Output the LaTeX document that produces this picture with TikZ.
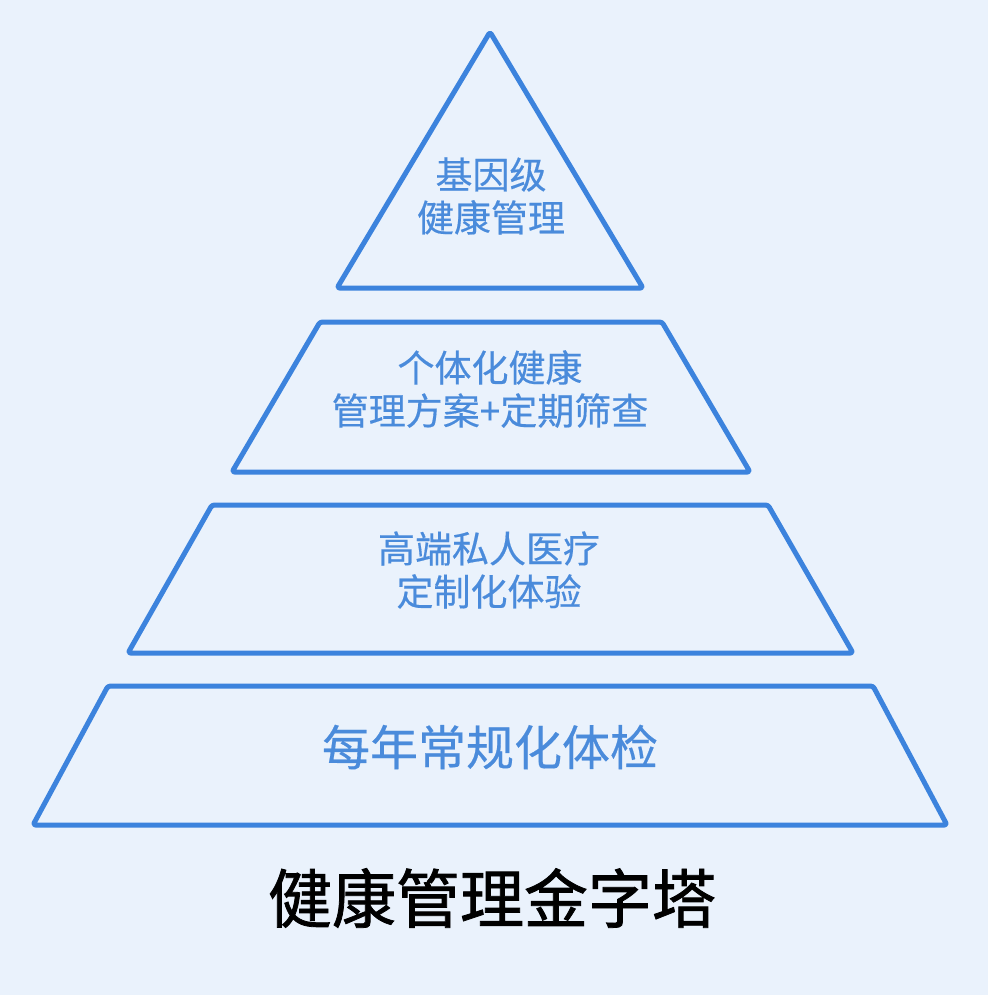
\documentclass[tikz,border=0pt]{standalone}
\usepackage{fontspec}
\newfontfamily\cjk{Noto Sans CJK SC}[FakeBold=0.4]
\newfontfamily\cjkbold{Noto Sans CJK SC}[FakeBold=1.2]
\definecolor{bgc}{HTML}{EAF2FC}
\definecolor{linec}{HTML}{3C83DD}
\definecolor{textc}{HTML}{4A8BDB}
\begin{document}
\begin{tikzpicture}[x=1pt,y=-1pt,
  tier/.style={draw=linec,line width=5pt,line join=round,rounded corners=2.5pt},
  lbl/.style={text=textc,font=\cjk\fontsize{37}{43}\selectfont,align=center,inner sep=0pt},
  biglbl/.style={text=textc,font=\cjk\fontsize{48}{56}\selectfont,align=center,inner sep=0pt},
  ttl/.style={text=black,font=\cjkbold\fontsize{64}{72}\selectfont,align=center,inner sep=0pt}]
\fill[bgc] (0,0) rectangle (988,995);
\useasboundingbox (0,0) rectangle (988,995);
% tiers
\draw[tier] (490,32) -- (643,288) -- (337,288) -- cycle;
\draw[tier] (320,322) -- (662,322) -- (750,472) -- (232,472) -- cycle;
\draw[tier] (212,505) -- (768,505) -- (853,653) -- (128,653) -- cycle;
\draw[tier] (108,686) -- (873,686) -- (947,825) -- (33,825) -- cycle;
% labels
\node[lbl] (t1) at (491,196) {基因级\\健康管理};
\node[lbl] (t2) at (490,389) {个体化健康\\管理方案+定期筛查};
\node[lbl] (t3) at (489,570) {高端私人医疗\\定制化体验};
\node[biglbl] (t4) at (490,747) {每年常规化体检};
\node[ttl] (title) at (492,898) {健康管理金字塔};
\end{tikzpicture}
\end{document}
